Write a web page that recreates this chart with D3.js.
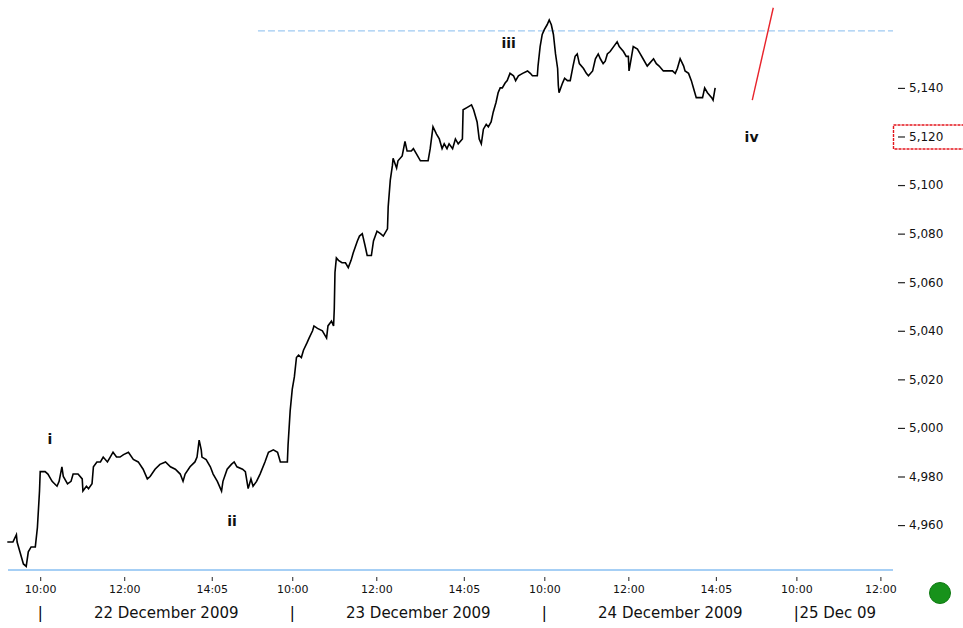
<!DOCTYPE html>
<html>
<head>
<meta charset="utf-8">
<script src="https://cdn.jsdelivr.net/npm/d3@7"></script>
<style>
  html, body { margin: 0; padding: 0; background: #fff; }
  svg { display: block; }
</style>
</head>
<body>
<svg id="chart" width="963" height="628"></svg>
<script>
// ---- data (trading minutes from 22 Dec 2009 10:00; one session = 360 min) ----
const minutes = [-47,-39,-34,-33,-29,-24,-20,-17,-13,-7,-4,-1,0,7,11,17,24,27,31,33,39,44,47,54,60,61,66,69,74,76,81,86,90,96,100,104,109,114,119,126,133,140,147,153,157,164,171,179,186,193,200,204,207,214,221,224,227,230,231,237,243,247,253,259,261,267,273,277,281,289,293,297,301,304,309,314,321,326,333,339,343,353,
354,357,360,363,366,369,373,376,381,384,389,391,396,403,409,411,416,419,420,421,423,426,431,436,440,444,447,453,456,460,464,467,473,476,481,486,490,496,497,500,503,504,509,511,517,521,524,530,533,539,543,549,554,557,561,566,570,574,577,581,584,589,593,597,603,604,610,616,619,624,627,630,633,637,640,644,647,651,654,657,660,664,667,671,676,679,683,689,696,700,703,710,
711,714,717,720,724,727,730,733,736,739,740,741,746,749,753,757,761,764,767,770,776,780,783,789,793,797,800,804,807,810,814,819,824,827,833,837,840,841,844,847,853,857,861,867,870,876,880,884,890,893,897,903,907,910,914,919,921,926,930,933,937,940,946,949,953,959,961,964];
const prices = [4953,4953,4956,4953,4949,4944,4943,4949,4951,4951,4959,4974,4982,4982,4981,4978,4976,4978,4984,4980,4977,4978,4981,4981,4979,4974,4976,4975,4977,4984,4986,4986,4988,4986,4988,4990,4988,4988,4989,4990,4987,4986,4983,4979,4980,4983,4985,4986,4984,4983,4981,4978,4981,4984,4986,4988,4995,4991,4988,4987,4984,4981,4978,4974,4978,4983,4985,4986,4984,4983,4982,4975,4979,4976,4978,4981,4986,4990,4991,4990,4986,4986,
4993,5007,5016,5021,5029,5030,5029,5032,5035,5037,5040,5042,5041,5040,5037,5042,5044,5042,5049,5064,5070,5069,5068,5068,5066,5069,5072,5077,5079,5080,5075,5071,5071,5077,5081,5080,5079,5082,5091,5102,5108,5111,5107,5110,5112,5118,5114,5114,5115,5112,5110,5110,5110,5115,5124,5121,5119,5115,5117,5115,5117,5115,5119,5117,5119,5131,5132,5133,5131,5126,5119,5117,5123,5125,5124,5126,5130,5134,5138,5140,5140,5142,5143,5146,5145,5143,5145,5146,5147,5146,5145,5145,
5149,5157,5162,5164,5166,5168,5166,5162,5154,5148,5141,5138,5142,5144,5143,5143,5149,5153,5154,5150,5148,5146,5145,5147,5152,5154,5152,5150,5151,5154,5155,5157,5159,5157,5155,5153,5153,5147,5152,5157,5156,5154,5152,5149,5150,5152,5150,5149,5147,5147,5147,5147,5146,5148,5152,5149,5147,5146,5143,5140,5136,5136,5136,5140,5138,5136,5135,5140];

const projMinutes = [1017, 1047];
const projPrices = [5135, 5173];

const resistanceLevel = 5163.5;
const resistanceFrom = 311;

const waveLabels = ["i", "ii", "iii", "iv"];
const waveMinutes = [14, 274, 669, 1016];
const wavePrices = [4993.4, 4959.6, 5156.5, 5117.8];

const yTicks = [4960, 4980, 5000, 5020, 5040, 5060, 5080, 5100, 5120, 5140];
const highlightedTick = 5120;

const xTickMinutes = [0, 120, 245, 360, 480, 605, 720, 840, 965, 1080, 1200];
const xTickLabels = ["10:00","12:00","14:05","10:00","12:00","14:05","10:00","12:00","14:05","10:00","12:00"];

const dayStarts = [0, 360, 720, 1080];
const dayLabels = ["22 December 2009", "23 December 2009", "24 December 2009", "25 Dec 09"];
const sessionLength = 360;

// ---- scales ----
const svg = d3.select("#chart");
const x = d3.scaleLinear().domain([-46, 1218]).range([8, 893]);
const y = d3.scaleLinear().domain([4941.5, 5176.2]).range([570, 0]);

const font = "DejaVu Sans, Verdana, sans-serif";

// resistance dashed line
svg.append("line")
  .attr("x1", x(resistanceFrom)).attr("x2", x(1218))
  .attr("y1", y(resistanceLevel)).attr("y2", y(resistanceLevel))
  .attr("stroke", "#9fcaf2").attr("stroke-width", 1.2)
  .attr("stroke-dasharray", "7,3");

// bottom baseline
svg.append("line")
  .attr("x1", x(-46)).attr("x2", x(1218))
  .attr("y1", y(4941.5)).attr("y2", y(4941.5))
  .attr("stroke", "#a6cff5").attr("stroke-width", 2);

// price line
const data = minutes.map((m, i) => [m, prices[i]]);
svg.append("path")
  .datum(data)
  .attr("fill", "none")
  .attr("stroke", "#000")
  .attr("stroke-width", 1.6)
  .attr("stroke-linejoin", "miter")
  .attr("d", d3.line().x(d => x(d[0])).y(d => y(d[1])));

// projection line
svg.append("path")
  .datum(projMinutes.map((m, i) => [m, projPrices[i]]))
  .attr("fill", "none")
  .attr("stroke", "#e8232b")
  .attr("stroke-width", 1.4)
  .attr("d", d3.line().x(d => x(d[0])).y(d => y(d[1])));

// wave labels
svg.selectAll("text.wave")
  .data(waveLabels)
  .join("text")
  .attr("class", "wave")
  .attr("x", (d, i) => x(waveMinutes[i]))
  .attr("y", (d, i) => y(wavePrices[i]))
  .attr("text-anchor", "middle")
  .attr("font-family", font)
  .attr("font-weight", "bold")
  .attr("font-size", 14)
  .attr("fill", "#111")
  .text(d => d);

// y axis (right)
const fmt = d3.format(",");
const yAxis = d3.axisRight(y).tickValues(yTicks).tickSize(7).tickPadding(4).tickFormat(fmt);
const yg = svg.append("g").attr("transform", `translate(898,0)`).call(yAxis);
yg.select(".domain").remove();
yg.selectAll("line").attr("stroke", "#222").attr("stroke-width", 1.2);
yg.selectAll("text").attr("font-family", font).attr("font-size", 12).attr("fill", "#111");

// highlighted tick box
svg.append("rect")
  .attr("x", 893.5).attr("y", y(highlightedTick) - 11.5)
  .attr("width", 80).attr("height", 24)
  .attr("fill", "none").attr("stroke", "#e3141c")
  .attr("stroke-width", 1.4).attr("stroke-dasharray", "3,1");

// x axis time ticks
const xAxis = d3.axisBottom(x).tickValues(xTickMinutes).tickSize(4).tickPadding(4)
  .tickFormat((d, i) => xTickLabels[i]);
const xg = svg.append("g").attr("transform", `translate(0,577)`).call(xAxis);
xg.select(".domain").remove();
xg.selectAll("line").attr("stroke", "#222");
xg.selectAll("text").attr("font-family", font).attr("font-size", 11).attr("fill", "#111");

// day separators and labels
svg.selectAll("text.daybar")
  .data(dayStarts)
  .join("text")
  .attr("class", "daybar")
  .attr("x", d => x(d))
  .attr("y", 618)
  .attr("text-anchor", "middle")
  .attr("font-family", font).attr("font-size", 15).attr("fill", "#000")
  .text("|");

svg.selectAll("text.day")
  .data(dayLabels)
  .join("text")
  .attr("class", "day")
  .attr("x", (d, i) => i < 3 ? x(dayStarts[i] + sessionLength / 2) : x(dayStarts[i]) + 3)
  .attr("y", 618)
  .attr("text-anchor", (d, i) => i < 3 ? "middle" : "start")
  .attr("font-family", font).attr("font-size", 15).attr("fill", "#111")
  .text(d => d);

// status dot
svg.append("circle")
  .attr("cx", 940).attr("cy", 593).attr("r", 10.5)
  .attr("fill", "#17921b").attr("stroke", "#0f7a12").attr("stroke-width", 1);
</script>
</body>
</html>
